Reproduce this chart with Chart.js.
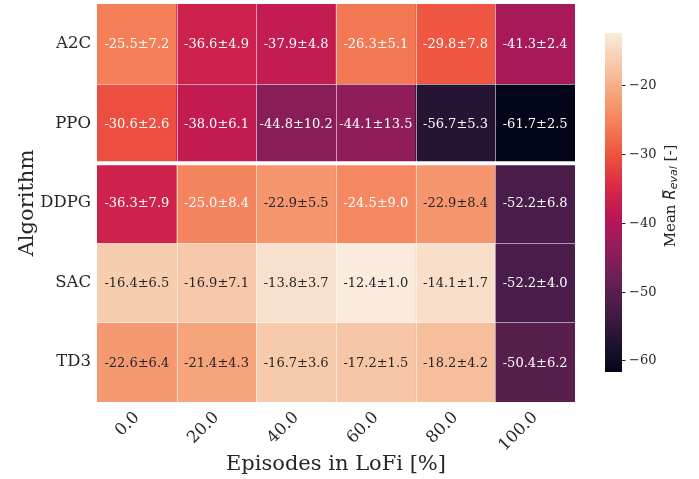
<!DOCTYPE html>
<html>
<head>
<meta charset="utf-8">
<script src="https://cdn.jsdelivr.net/npm/chart.js@4.4.1/dist/chart.umd.min.js"></script>
<style>
  html, body { margin: 0; padding: 0; background: #fff; }
</style>
</head>
<body>
<canvas id="myChart" width="699" height="479"></canvas>
<script>
// linhas (algoritmos) e colunas (percentagem de episódios em LoFi)
const algorithms = ['A2C', 'PPO', 'DDPG', 'SAC', 'TD3'];
const lofiShares = ['0.0', '20.0', '40.0', '60.0', '80.0', '100.0'];

// média e desvio padrão por algoritmo
const meanA2C  = [-25.5, -36.6, -37.9, -26.3, -29.8, -41.3];
const stdA2C   = [7.2, 4.9, 4.8, 5.1, 7.8, 2.4];
const meanPPO  = [-30.6, -38.0, -44.8, -44.1, -56.7, -61.7];
const stdPPO   = [2.6, 6.1, 10.2, 13.5, 5.3, 2.5];
const meanDDPG = [-36.3, -25.0, -22.9, -24.5, -22.9, -52.2];
const stdDDPG  = [7.9, 8.4, 5.5, 9.0, 8.4, 6.8];
const meanSAC  = [-16.4, -16.9, -13.8, -12.4, -14.1, -52.2];
const stdSAC   = [6.5, 7.1, 3.7, 1.0, 1.7, 4.0];
const meanTD3  = [-22.6, -21.4, -16.7, -17.2, -18.2, -50.4];
const stdTD3   = [6.4, 4.3, 3.6, 1.5, 4.2, 6.2];

const colorbarTicks = [-20, -30, -40, -50, -60];

const means = [meanA2C, meanPPO, meanDDPG, meanSAC, meanTD3];
const stds = [stdA2C, stdPPO, stdDDPG, stdSAC, stdTD3];

const vmin = Math.min(...means.flat());
const vmax = Math.max(...means.flat());

// mapa de cores "rocket"
const rocket = [
  [3, 5, 26], [34, 19, 49], [69, 28, 71], [105, 31, 85], [146, 28, 91], [185, 22, 87],
  [217, 40, 71], [237, 81, 62], [244, 124, 86], [246, 164, 124], [247, 201, 170], [250, 235, 221]
];

function rocketRgb(t) {
  t = Math.max(0, Math.min(1, t));
  const pos = t * (rocket.length - 1);
  const i = Math.min(Math.floor(pos), rocket.length - 2);
  const f = pos - i;
  const a = rocket[i], b = rocket[i + 1];
  return [0, 1, 2].map(k => Math.round(a[k] + (b[k] - a[k]) * f));
}
function colorFor(v) {
  const c = rocketRgb((v - vmin) / (vmax - vmin));
  return `rgb(${c[0]},${c[1]},${c[2]})`;
}
function textColorFor(v) {
  const c = rocketRgb((v - vmin) / (vmax - vmin)).map(x => {
    x = x / 255;
    return x <= 0.03928 ? x / 12.92 : Math.pow((x + 0.055) / 1.055, 2.4);
  });
  const lum = 0.2126 * c[0] + 0.7152 * c[1] + 0.0722 * c[2];
  return lum > 0.408 ? '#262626' : '#ffffff';
}

const FONT = "'DejaVu Serif', serif";

// anotações e linhas brancas entre as células
const cellPlugin = {
  id: 'cells',
  afterDatasetsDraw(chart) {
    const c = chart.ctx;
    const ys = chart.scales.y;
    const area = chart.chartArea;
    c.save();
    c.strokeStyle = 'rgba(255,255,255,0.55)';
    c.lineWidth = 1;
    const meta0 = chart.getDatasetMeta(0);
    meta0.data.forEach((el, j) => {
      if (j === 0) return;
      const x = Math.round(el.x - el.width / 2) + 0.5;
      c.beginPath(); c.moveTo(x, area.top); c.lineTo(x, area.bottom); c.stroke();
    });
    for (let k = 1; k < algorithms.length; k++) {
      const y = Math.round(ys.getPixelForValue(k)) + 0.5;
      c.beginPath(); c.moveTo(area.left, y); c.lineTo(area.right, y); c.stroke();
    }
    // separação on-policy / off-policy
    c.strokeStyle = '#ffffff';
    c.lineWidth = 4;
    const ySep = ys.getPixelForValue(2);
    c.beginPath(); c.moveTo(area.left, ySep); c.lineTo(area.right, ySep); c.stroke();

    c.font = `13px ${FONT}`;
    c.textAlign = 'center';
    c.textBaseline = 'middle';
    chart.data.datasets.forEach((ds, i) => {
      chart.getDatasetMeta(i).data.forEach((el, j) => {
        const v = means[i][j];
        c.fillStyle = textColorFor(v);
        c.fillText(`${v.toFixed(1)}±${stds[i][j].toFixed(1)}`, el.x, (el.y + el.base) / 2 + 1);
      });
    });
    c.restore();
  },
  afterDraw(chart) {
    // barra de cores
    const c = chart.ctx;
    const x0 = 605, w = 17, top = 33, bottom = 372;
    const yOf = v => top + (vmax - v) / (vmax - vmin) * (bottom - top);
    c.save();
    const g = c.createLinearGradient(0, bottom, 0, top);
    for (let s = 0; s <= 60; s++) {
      const t = s / 60;
      const col = rocketRgb(t);
      g.addColorStop(t, `rgb(${col[0]},${col[1]},${col[2]})`);
    }
    c.fillStyle = g;
    c.fillRect(x0, top, w, bottom - top);
    c.strokeStyle = '#262626';
    c.fillStyle = '#262626';
    c.lineWidth = 1;
    c.font = `13px ${FONT}`;
    c.textAlign = 'left';
    c.textBaseline = 'middle';
    colorbarTicks.forEach(v => {
      const y = Math.round(yOf(v)) + 0.5;
      c.beginPath(); c.moveTo(x0 + w, y); c.lineTo(x0 + w + 3.5, y); c.stroke();
      c.fillText('\u2212' + Math.abs(v), x0 + w + 7, y);
    });
    // título da barra de cores
    c.translate(671, 196);
    c.rotate(-Math.PI / 2);
    const fs = 15;
    const parts = [
      { t: 'Mean ', f: `${fs}px ${FONT}`, dy: 0 },
      { t: 'R', f: `italic ${fs}px 'DejaVu Sans', sans-serif`, dy: 0, bar: true },
      { t: 'eval', f: `italic ${Math.round(fs * 0.7)}px 'DejaVu Sans', sans-serif`, dy: 3 },
      { t: ' [-]', f: `${fs}px ${FONT}`, dy: 0 }
    ];
    let total = 0;
    parts.forEach(p => { c.font = p.f; p.w = c.measureText(p.t).width; total += p.w; });
    let x = -total / 2;
    c.textAlign = 'left';
    c.textBaseline = 'middle';
    parts.forEach(p => {
      c.font = p.f;
      c.fillText(p.t, x, p.dy);
      if (p.bar) {
        c.beginPath();
        c.moveTo(x + 2, -fs * 0.55); c.lineTo(x + p.w - 0.5, -fs * 0.55);
        c.lineWidth = 0.9; c.stroke();
      }
      x += p.w;
    });
    c.restore();
  }
};

const ctx = document.getElementById('myChart').getContext('2d');
const chart = new Chart(ctx, {
  type: 'bar',
  data: {
    labels: lofiShares,
    datasets: algorithms.map((name, i) => ({
      label: name,
      data: lofiShares.map(() => 1),
      backgroundColor: means[i].map(colorFor),
      borderWidth: 0,
      barPercentage: 1,
      categoryPercentage: 1
    }))
  },
  options: {
    responsive: false,
    animation: false,
    layout: { padding: { top: 4, right: 124, left: 0, bottom: 0 } },
    plugins: { legend: { display: false }, tooltip: { enabled: false } },
    scales: {
      x: {
        stacked: true,
        grid: { display: false, drawTicks: false },
        border: { display: false },
        ticks: {
          color: '#262626', font: { family: FONT, size: 16.5 },
          minRotation: 45, maxRotation: 45, padding: 6
        },
        title: {
          display: true, text: 'Episodes in LoFi [%]', color: '#262626',
          font: { family: FONT, size: 21 }, padding: { top: 0, bottom: 2 }
        },
        afterFit(scale) {
          scale.height = 77;
          scale.paddingLeft = 0; scale.paddingRight = 0;
        }
      },
      y: {
        stacked: true,
        reverse: true,
        min: 0,
        max: algorithms.length,
        grid: { display: false, drawTicks: false },
        border: { display: false },
        afterBuildTicks(scale) {
          scale.ticks = algorithms.map((a, i) => ({ value: i + 0.5 }));
        },
        ticks: {
          color: '#262626', font: { family: FONT, size: 16.5 }, padding: 6,
          callback: v => algorithms[Math.floor(v)]
        },
        title: {
          display: true, text: 'Algorithm', color: '#262626',
          font: { family: FONT, size: 21 }, padding: { top: 15, bottom: 0 }
        },
        afterFit(scale) {
          scale.width = 97;
          scale.paddingTop = 0; scale.paddingBottom = 0;
        }
      }
    }
  },
  plugins: [cellPlugin]
});
</script>
</body>
</html>
